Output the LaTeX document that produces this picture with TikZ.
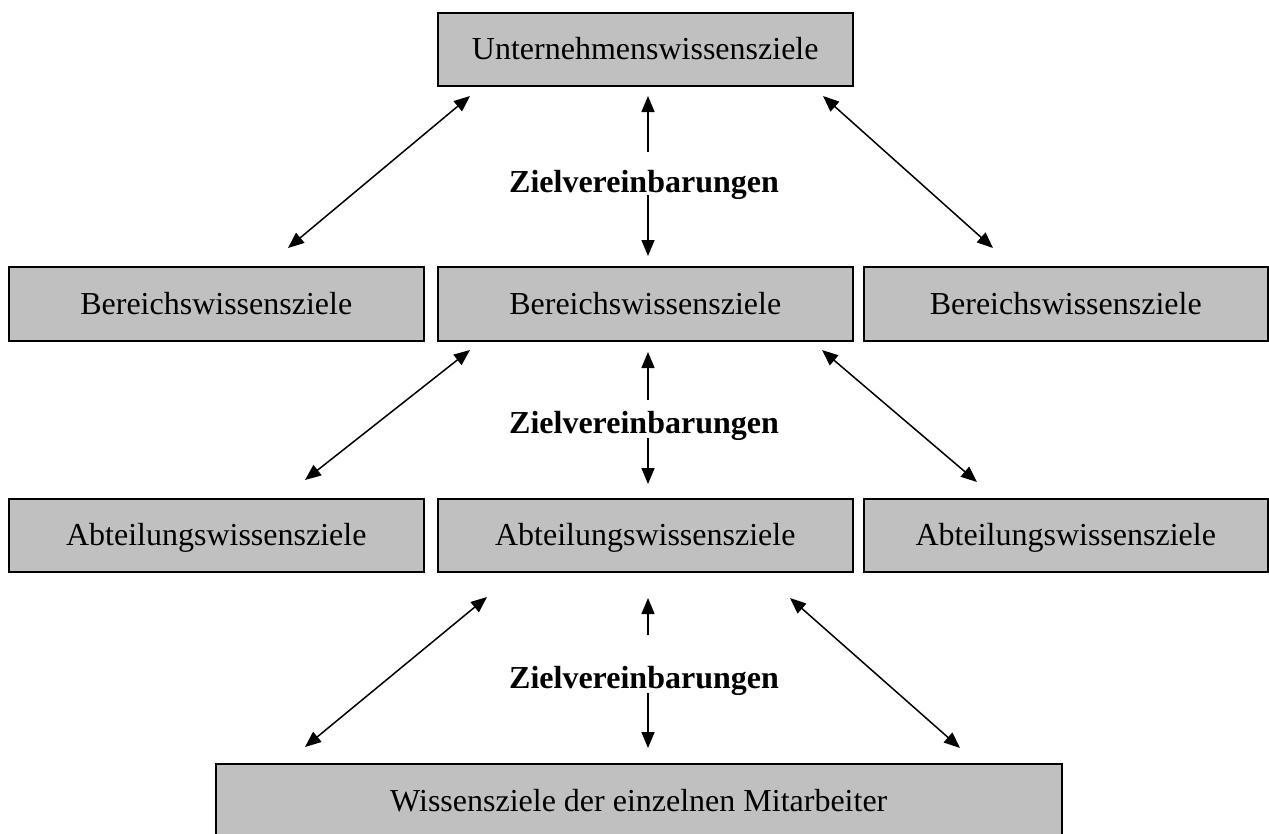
\documentclass[tikz,border=0pt]{standalone}
\usepackage{fontspec}
\setmainfont{Liberation Serif}
\usetikzlibrary{arrows.meta}
\definecolor{boxgray}{HTML}{C0C0C0}
\begin{document}
\begin{tikzpicture}[x=1pt,y=-1pt,
  goal/.style={draw=black,line width=1.5pt,fill=boxgray,inner sep=0pt,anchor=north west,
    font=\fontsize{32}{38}\selectfont,text height=21pt,text depth=0pt},
  lbl/.style={inner sep=0pt,anchor=base,font=\fontsize{32}{38}\selectfont\bfseries},
  tip/.style={-{Triangle[length=16pt,width=13pt]},line width=1.5pt},
  both/.style={{Triangle[length=16pt,width=13pt]}-{Triangle[length=16pt,width=13pt]},line width=1.5pt}]
\useasboundingbox (0,0) rectangle (1269,833);
\clip (0,0) rectangle (1269,833);

% boxes
\node[goal,minimum width=415pt,minimum height=73pt] (u) at (437,12) {Unternehmenswissensziele};
\node[goal,minimum width=415pt,minimum height=74pt] (b1) at (8,266) {Bereichswissensziele};
\node[goal,minimum width=415pt,minimum height=74pt] (b2) at (437,266) {Bereichswissensziele};
\node[goal,minimum width=404pt,minimum height=74pt] (b3) at (863,266) {Bereichswissensziele};
\node[goal,minimum width=415pt,minimum height=73pt] (a1) at (8,498) {Abteilungswissensziele};
\node[goal,minimum width=415pt,minimum height=73pt] (a2) at (437,498) {Abteilungswissensziele};
\node[goal,minimum width=404pt,minimum height=73pt] (a3) at (863,498) {Abteilungswissensziele};
\node[goal,minimum width=846pt,minimum height=74pt] (m) at (215,763) {Wissensziele der einzelnen Mitarbeiter};

% labels
\node[lbl] (z1) at (644,192) {Zielvereinbarungen};
\node[lbl] (z2) at (644,433) {Zielvereinbarungen};
\node[lbl] (z3) at (644,688) {Zielvereinbarungen};

% row 1 arrows
\coordinate (l1a) at (470,96);  \coordinate (l1b) at (288,248);
\coordinate (r1a) at (823,96);  \coordinate (r1b) at (993,248);
\coordinate (c1a) at (648,96);  \coordinate (c1b) at (648,152);
\coordinate (c1c) at (648,195); \coordinate (c1d) at (648,256);
\draw[both] (l1a) -- (l1b);
\draw[both] (r1a) -- (r1b);
\draw[tip] (c1b) -- (c1a);
\draw[tip] (c1c) -- (c1d);

% row 2 arrows
\coordinate (l2a) at (470,350); \coordinate (l2b) at (305,480);
\coordinate (r2a) at (822,350); \coordinate (r2b) at (977,482);
\coordinate (c2a) at (648,352); \coordinate (c2b) at (648,400);
\coordinate (c2c) at (648,438); \coordinate (c2d) at (648,484);
\draw[both] (l2a) -- (l2b);
\draw[both] (r2a) -- (r2b);
\draw[tip] (c2b) -- (c2a);
\draw[tip] (c2c) -- (c2d);

% row 3 arrows
\coordinate (l3a) at (487,597); \coordinate (l3b) at (305,747);
\coordinate (r3a) at (790,598); \coordinate (r3b) at (960,748);
\coordinate (c3a) at (648,598); \coordinate (c3b) at (648,635);
\coordinate (c3c) at (648,693); \coordinate (c3d) at (648,748);
\draw[both] (l3a) -- (l3b);
\draw[both] (r3a) -- (r3b);
\draw[tip] (c3b) -- (c3a);
\draw[tip] (c3c) -- (c3d);
\end{tikzpicture}
\end{document}
